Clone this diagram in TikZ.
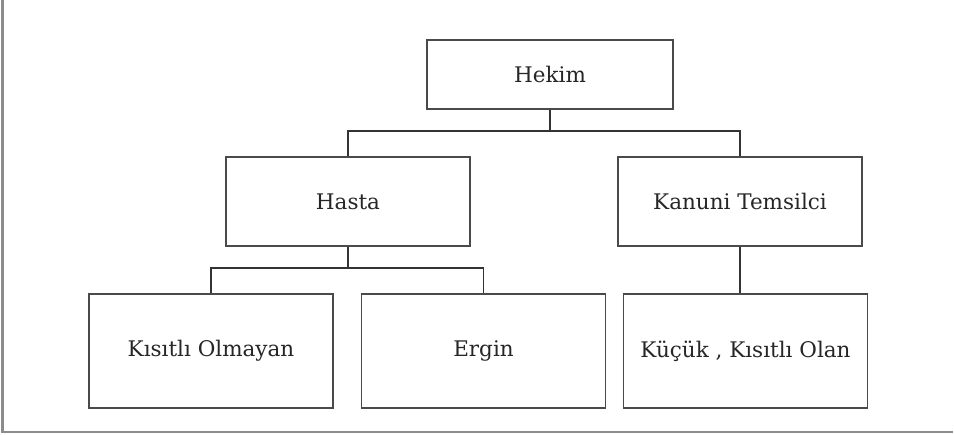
\documentclass[tikz,border=0pt]{standalone}
\usepackage{fontspec}
\setmainfont{DejaVu Serif}

\definecolor{kutugri}{HTML}{4A4A4A}
\definecolor{cizgigri}{HTML}{333333}
\definecolor{cercevegri}{HTML}{8C8C8C}

\tikzset{
  kutu/.style={draw=kutugri, line width=1.2pt, minimum width=244pt, minimum height=#1,
               inner sep=0pt, text=black!85, font=\fontsize{21.5}{25}\selectfont},
  bag/.style={draw=cizgigri, line width=1.2pt},
  cerceve/.style={draw=cercevegri, line width=2.2pt}
}

\begin{document}
\begin{tikzpicture}[x=1pt, y=-1pt]
    \useasboundingbox (0, 0) rectangle (954, 435);
    \draw[cerceve] (2.5, 0) -- (2.5, 432) -- (953, 432);

    % ust seviye
    \node[kutu=69pt, minimum width=246pt] (hekim) at (550, 74.5) {Hekim};

    % orta seviye
    \node[kutu=89pt] (hasta)  at (348, 201.5) {Hasta};
    \node[kutu=89pt] (kanuni) at (740, 201.5) {Kanuni Temsilci};

    % alt seviye
    \node[kutu=114pt] (kisitsiz) at (211, 351)   {Kısıtlı Olmayan};
    \node[kutu=114pt] (ergin)    at (483.5, 351) {Ergin};
    \node[kutu=114pt] (kucuk)    at (745.5, 351) {Küçük , Kısıtlı Olan};

    \coordinate (bar1) at (550, 131);
    \coordinate (bar2) at (348, 268);
    \draw[bag] (hekim.south) -- (bar1);
    \draw[bag] (hasta.north) |- (bar1) -| (kanuni.north);
    \draw[bag] (hasta.south) -- (bar2);
    \draw[bag] (kisitsiz.north) |- (bar2) -| (ergin.north);
    \draw[bag] (kanuni.south) -- (kanuni.south |- kucuk.north);
\end{tikzpicture}
\end{document}
